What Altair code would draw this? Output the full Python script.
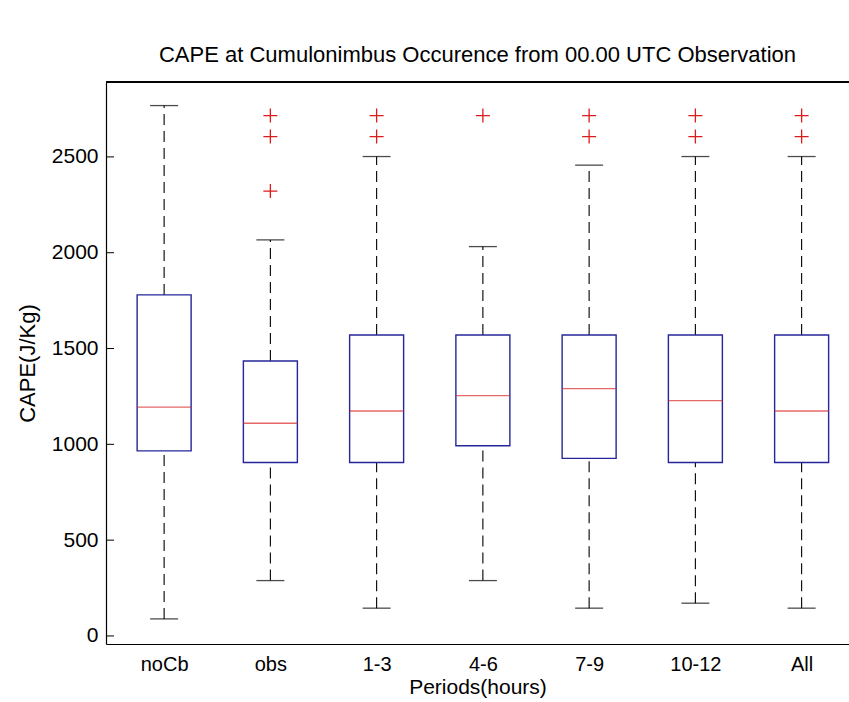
import altair as alt
import pandas as pd

categories = ["noCb", "obs", "1-3", "4-6", "7-9", "10-12", "All"]
lower_whisker = [89, 289, 145, 289, 145, 171, 145]
q1 = [966, 905, 905, 993, 927, 905, 905]
median = [1194, 1110, 1174, 1254, 1291, 1228, 1174]
q3 = [1780, 1435, 1571, 1571, 1571, 1571, 1571]
upper_whisker = [2768, 2067, 2502, 2032, 2457, 2502, 2502]

outlier_groups = ["obs", "obs", "obs", "1-3", "1-3", "4-6", "7-9", "7-9",
                  "10-12", "10-12", "All", "All"]
outlier_values = [2716, 2606, 2322, 2716, 2606, 2716, 2716, 2606,
                  2716, 2606, 2716, 2606]

y_ticks = [0, 500, 1000, 1500, 2000, 2500]

box_df = pd.DataFrame({
    "cat": categories,
    "pos": list(range(1, len(categories) + 1)),
    "lo": lower_whisker,
    "q1": q1,
    "med": median,
    "q3": q3,
    "hi": upper_whisker,
})
out_df = pd.DataFrame({
    "cat": outlier_groups,
    "pos": [categories.index(c) + 1 for c in outlier_groups],
    "v": outlier_values,
})
tick_df = pd.DataFrame({"v": y_ticks})

FONT = "Liberation Sans"
W, H = 743, 562

label_expr = "[" + ",".join("'" + c + "'" for c in categories) + "][datum.value - 1]"

xs = alt.Scale(domain=[0.5, 0.5 + W / 107.7], nice=False, zero=False)
ys = alt.Scale(domain=[-42, 2891], nice=False, zero=False)

X = alt.X("pos:Q", scale=xs,
          axis=alt.Axis(values=list(range(1, len(categories) + 1)), labelExpr=label_expr,
                        ticks=False, grid=False, labelPadding=10, titlePadding=2,
                        labelFontSize=20, titleFontSize=21,
                        title="Periods(hours)"))
YA = alt.Axis(values=y_ticks, format="d", ticks=False, grid=False, labelPadding=8,
              titlePadding=12, title="CAPE(J/Kg)")

def Y(field):
    return alt.Y(field, type="quantitative", scale=ys, axis=YA)

base = alt.Chart(box_df)

whisk_up = base.mark_rule(color="black", strokeWidth=1.1, strokeDash=[11, 6]).encode(
    x=X, y=Y("q3"), y2="hi")
whisk_lo = base.mark_rule(color="black", strokeWidth=1.1, strokeDash=[11, 6]).encode(
    x=X, y=Y("lo"), y2="q1")
cap_up = base.mark_tick(orient="horizontal", size=28, thickness=1.3, color="black").encode(
    x=X, y=Y("hi"))
cap_lo = base.mark_tick(orient="horizontal", size=28, thickness=1.3, color="black").encode(
    x=X, y=Y("lo"))
box = base.mark_bar(width=54, fill="white", stroke="#26269a", strokeWidth=1.4).encode(
    x=X, y=Y("q1"), y2="q3")
med = base.mark_tick(orient="horizontal", size=54, thickness=1.4, color="#dc2626").encode(
    x=X, y=Y("med"))
outl = alt.Chart(out_df).mark_point(
    shape="M-1,0H1M0,-1V1", size=196, filled=False, stroke="#dc1c1c", strokeWidth=1.3,
    opacity=1).encode(x=X, y=Y("v"))
yticks = alt.Chart(tick_df).mark_rule(color="black", strokeWidth=1).encode(
    y=Y("v"), x=alt.value(0), x2=alt.value(8))
top_line = alt.Chart(tick_df).mark_rule(color="black", strokeWidth=1.2).encode(
    x=alt.value(0), x2=alt.value(W), y=alt.value(0))

chart = alt.layer(whisk_up, whisk_lo, cap_up, cap_lo, box, med, outl, yticks, top_line).properties(
    width=W, height=H,
    background="white",
    autosize=alt.AutoSizeParams(type="none"),
    padding={"left": 106, "top": 82, "right": 0, "bottom": 58},
    title=alt.TitleParams(
        text="CAPE at Cumulonimbus Occurence from 00.00 UTC Observation",
        font=FONT, fontSize=22, fontWeight="normal", color="black",
        anchor="middle", frame="group", offset=-3, baseline="alphabetic"),
).configure_view(stroke=None).configure_axis(
    labelFont=FONT, labelFontSize=21, labelColor="black",
    titleFont=FONT, titleFontSize=22, titleFontWeight="normal", titleColor="black",
    domainColor="black", domainWidth=1.2,
)

chart.save("out.html", embed_options={"renderer": "svg", "actions": False})
